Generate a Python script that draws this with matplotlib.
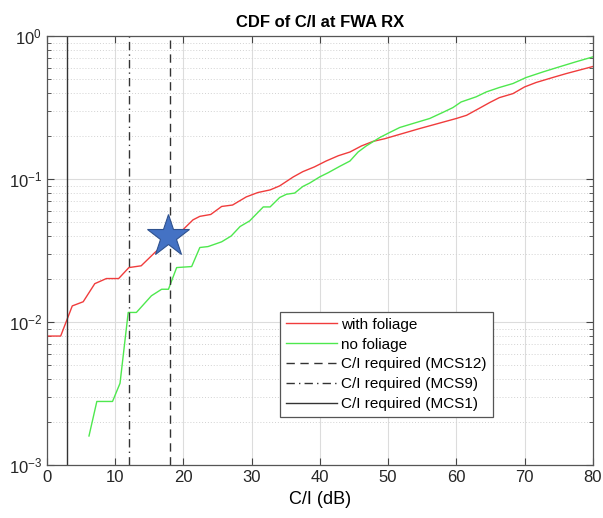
import numpy as np
import matplotlib.pyplot as plt
from matplotlib.ticker import LogLocator, NullFormatter

plt.rcParams['font.family'] = ['Liberation Sans', 'DejaVu Sans']

# CDF with foliage
x_fol = [0, 2, 3.7, 5.3, 7.0, 8.7, 10.5, 12.0, 13.8, 15.8, 18.0, 20.0, 21.4, 22.4, 24.0,
         25.6, 27.2, 29.2, 30.9, 32.7, 34.1, 36.1, 37.5, 39.2, 40.9, 42.7, 44.4, 46.1,
         47.8, 49.5, 51.7, 54.6, 56.6, 60.0, 61.5, 63.4, 64.9, 66.3, 68.3, 70.0, 71.7,
         74.1, 76.1, 80.0]
p_fol = [0.008, 0.008, 0.013, 0.0139, 0.0186, 0.0202, 0.0202, 0.0241, 0.0248, 0.0307,
         0.038, 0.0447, 0.052, 0.055, 0.0567, 0.0645, 0.066, 0.0752, 0.0807, 0.0842,
         0.0898, 0.1038, 0.113, 0.122, 0.134, 0.146, 0.155, 0.171, 0.184, 0.192, 0.206,
         0.226, 0.24, 0.266, 0.28, 0.314, 0.344, 0.372, 0.397, 0.442, 0.475, 0.514,
         0.548, 0.614]

# CDF without foliage
x_nofol = [6.15, 7.3, 9.6, 10.7, 11.9, 13.1, 15.3, 16.8, 17.8, 19.0, 21.2, 22.4, 23.6,
           25.6, 27.0, 28.3, 29.7, 31.7, 32.7, 34.1, 35.1, 36.3, 37.5, 38.5, 40.0, 41.2,
           42.9, 44.4, 45.6, 46.8, 48.8, 50.2, 51.7, 53.6, 56.1, 58.0, 59.5, 60.7, 62.9,
           64.4, 66.3, 68.3, 70.2, 72.7, 75.1, 77.5, 80.0]
p_nofol = [0.0016, 0.00279, 0.00279, 0.00374, 0.0117, 0.0117, 0.0153, 0.017, 0.017,
           0.0241, 0.0245, 0.0333, 0.0338, 0.0365, 0.0401, 0.0467, 0.0511, 0.064, 0.064,
           0.0745, 0.0785, 0.08, 0.089, 0.094, 0.104, 0.111, 0.123, 0.134, 0.155, 0.171,
           0.196, 0.212, 0.23, 0.245, 0.266, 0.293, 0.317, 0.347, 0.377, 0.408, 0.438,
           0.467, 0.514, 0.563, 0.611, 0.662, 0.717]

# required C/I thresholds (dB)
ci_mcs12 = 18
ci_mcs9 = 12
ci_mcs1 = 3

star_x, star_y = 17.7, 0.04

fig = plt.figure(figsize=(6.03, 5.18), dpi=100)
ax = fig.add_axes([0.078, 0.102, 0.905, 0.828])

ax.plot(x_fol, p_fol, color='#f03c3c', lw=1.0, label='with foliage')
ax.plot(x_nofol, p_nofol, color='#4ee84e', lw=1.0, label='no foliage')
ax.axvline(ci_mcs12, color='#333333', lw=1.0, ls=(0, (6, 4)), label='C/I required (MCS12)')
ax.axvline(ci_mcs9, color='#333333', lw=1.0, ls=(0, (6, 3, 1, 3)), label='C/I required (MCS9)')
ax.axvline(ci_mcs1, color='#333333', lw=1.0, ls='-', label='C/I required (MCS1)')
ax.plot([star_x], [star_y], marker='*', ms=32, color='#4472c4', mec='#2f528f', mew=0.8)

ax.set_yscale('log')
ax.set_xlim(0, 80)
ax.set_ylim(1e-3, 1)
ax.set_xticks(np.arange(0, 81, 10))
ax.yaxis.set_minor_locator(LogLocator(base=10, subs=np.arange(2, 10)))
ax.yaxis.set_minor_formatter(NullFormatter())

ax.grid(True, which='major', color='#dcdcdc', lw=0.8)
ax.grid(True, which='minor', axis='y', color='#d2d2d2', lw=0.7, ls=(0, (1, 2)))
ax.set_axisbelow(True)

ax.tick_params(which='both', direction='in', top=True, right=True, labelsize=12,
               color='#444444', labelcolor='#262626')
ax.tick_params(which='major', length=5)
ax.tick_params(which='minor', length=3)
for s in ax.spines.values():
    s.set_color('#555555')
    s.set_linewidth(0.9)

ax.set_title('CDF of C/I at FWA RX', fontsize=12, fontweight='bold', pad=7)
ax.set_xlabel('C/I (dB)', fontsize=13, labelpad=4)

leg = ax.legend(loc='lower left', bbox_to_anchor=(0.427, 0.112), borderaxespad=0,
                fontsize=11, fancybox=False, framealpha=1, edgecolor='#555555',
                handlelength=3.3, handletextpad=0.3, borderpad=0.4, labelspacing=0.38)
leg.get_frame().set_linewidth(0.9)

fig.savefig('out.png', dpi=100)
